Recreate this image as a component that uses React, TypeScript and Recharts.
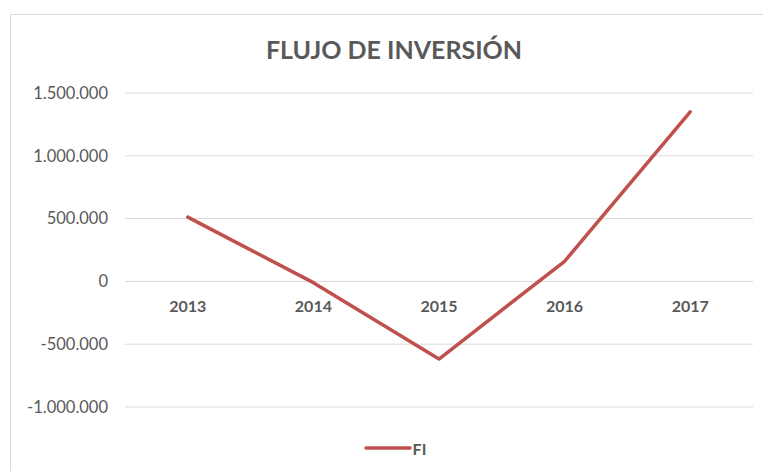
import { LineChart, Line, XAxis, YAxis, CartesianGrid, Legend, LabelList } from 'recharts';

const years = ['2013', '2014', '2015', '2016', '2017'];
const fiValues = [512000, -10000, -618000, 160000, 1350000];
const yTicks = [-1000000, -500000, 0, 500000, 1000000, 1500000];

const data = years.map((year, i) => ({ year, FI: fiValues[i], zero: 0 }));

const FONT = 'Lato, "Open Sans", sans-serif';
const TEXT = '#595959';
const RED = '#C0504D';

// 1500000 -> "1.500.000"
const fmt = (v: number) => {
  const s = Math.abs(v).toString().replace(/\B(?=(\d{3})+(?!\d))/g, '.');
  return v < 0 ? `-${s}` : s;
};

const LegendContent = () => (
  <div style={{ display: 'flex', justifyContent: 'center', alignItems: 'center', height: 20, fontFamily: FONT }}>
    <svg width={48} height={20}>
      <line x1={2} y1={10} x2={46} y2={10} stroke={RED} strokeWidth={3.5} strokeLinecap="round" />
    </svg>
    <span style={{ color: TEXT, fontWeight: 700, fontSize: 16, marginLeft: 1 }}>FI</span>
  </div>
);

export default function App() {
  return (
    <div style={{ position: 'fixed', left: 0, top: 0, width: 763, height: 471, overflow: 'hidden', background: '#fff' }}>
      <div style={{ position: 'absolute', left: 10, top: 14, width: 766, height: 470, border: '1px solid #d9d9d9', background: '#fff' }}>
        <div style={{ position: 'absolute', top: 19, left: 0, width: 766, textAlign: 'center', fontFamily: FONT, fontWeight: 700, fontSize: 25, color: TEXT }}>
          FLUJO DE INVERSIÓN
        </div>
        <LineChart width={766} height={460} data={data} margin={{ top: 78, right: 24, left: 0, bottom: 48 }}>
          <CartesianGrid vertical={false} stroke="#d9d9d9" strokeWidth={1} />
          <XAxis dataKey="year" hide scale="band" />
          <YAxis
            width={114}
            domain={[-1000000, 1500000]}
            ticks={yTicks}
            tickFormatter={fmt}
            axisLine={false}
            tickLine={false}
            tickSize={0}
            tickMargin={17}
            tick={{ fill: TEXT, fontSize: 16.5, fontFamily: FONT }}
          />
          <Line dataKey="zero" stroke="none" dot={false} activeDot={false} legendType="none" isAnimationActive={false}>
            <LabelList dataKey="year" position="bottom" offset={19} fill={TEXT} fontSize={16} fontWeight={700} fontFamily={FONT} />
          </Line>
          <Line dataKey="FI" stroke={RED} strokeWidth={3.5} dot={false} strokeLinecap="round" strokeLinejoin="round" isAnimationActive={false} />
          <Legend verticalAlign="bottom" content={<LegendContent />} wrapperStyle={{ bottom: 17, left: 1, width: 766 }} />
        </LineChart>
      </div>
    </div>
  );
}
